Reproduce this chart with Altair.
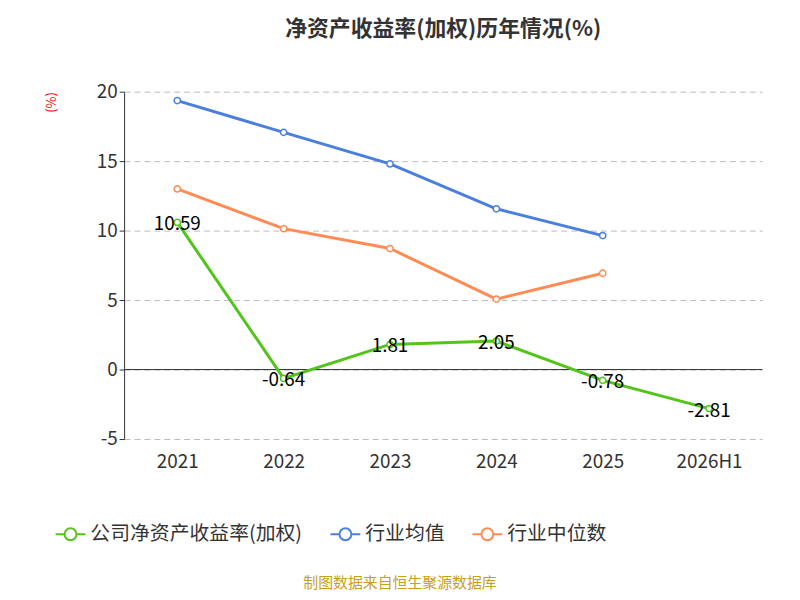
import altair as alt
import pandas as pd

years = ["2021", "2022", "2023", "2024", "2025", "2026H1"]
company = [10.59, -0.64, 1.81, 2.05, -0.78, -2.81]
ind_avg = [19.36, 17.07, 14.8, 11.57, 9.64]
ind_med = [13.0, 10.14, 8.71, 5.07, 6.93]

s1, s2, s3 = "公司净资产收益率(加权)", "行业均值", "行业中位数"
rows = [{"year": y, "v": v, "s": s1} for y, v in zip(years, company)]
rows += [{"year": y, "v": v, "s": s2} for y, v in zip(years, ind_avg)]
rows += [{"year": y, "v": v, "s": s3} for y, v in zip(years, ind_med)]
df = pd.DataFrame(rows)
lab = pd.DataFrame({"year": years, "v": company, "t": [f"{v:.2f}" for v in company]})

sym = "M-1,0 L-0.4,0 M0.4,0 L1,0 M0.4,0 A0.4,0.4 0 1,1 -0.4,0 A0.4,0.4 0 1,1 0.4,0"
color = alt.Color("s:N", title=None,
                  scale=alt.Scale(domain=[s1, s2, s3], range=["#52c41a", "#4a7fdb", "#ff8c55"]),
                  legend=alt.Legend(orient="none", legendX=-70, legendY=430, direction="horizontal",
                                    symbolType=sym, symbolSize=900, symbolFillColor="white",
                                    symbolStrokeWidth=2, labelFontSize=20, labelColor="#333",
                                    labelLimit=0, columnPadding=24, labelFont="Noto Sans CJK SC"))
x = alt.X("year:N", sort=years, title=None,
          scale=alt.Scale(paddingInner=0.0, paddingOuter=0.0),
          axis=alt.Axis(domain=False, ticks=False, labelAngle=0, labelFontSize=19,
                        labelColor="#333", labelPadding=14))
y = alt.Y("v:Q", scale=alt.Scale(domain=[-5, 20], nice=False, zero=False),
          axis=alt.Axis(values=[-5, 0, 5, 10, 15, 20], labelExpr="datum.value",
                        labelFontSize=19, labelColor="#333",
                        gridDash=[6, 4], gridColor="#bbb", domainColor="#333", tickColor="#333",
                        title="(%)", titleColor="red", titleFontSize=13, titleFontWeight="normal",
                        titleAnchor="end", titlePadding=38))

base = alt.Chart(df).encode(x=x, y=y, color=color)
lines = base.mark_line(strokeWidth=3)
pts = base.mark_point(filled=False, fill="white", fillOpacity=1, size=40, strokeWidth=1.5, opacity=1)
zero = alt.Chart(pd.DataFrame({"z": [0]})).mark_rule(color="#333").encode(y="z:Q")
labels = alt.Chart(lab).mark_text(fontSize=19, color="black", dy=2).encode(
    x=alt.X("year:N", sort=years), y="v:Q", text="t:N")
src = alt.Chart(pd.DataFrame({"t": ["制图数据来自恒生聚源数据库"]})).mark_text(
    fontSize=15, color="#c8a020").encode(text="t:N", x=alt.value(278), y=alt.value(495))

chart = alt.layer(zero, lines, pts, labels, src).properties(
    width=643, height=350,
    title=alt.Title("净资产收益率(加权)历年情况(%)", fontSize=22, color="#333", offset=42,
                    font="Noto Sans CJK SC"),
    autosize=alt.AutoSizeParams(type="none"),
    padding={"left": 117, "top": 82, "right": 30, "bottom": 170},
).configure(font="Noto Sans CJK SC").configure_view(stroke=None)

chart.save("out.html", embed_options={"renderer": "svg", "actions": False})
